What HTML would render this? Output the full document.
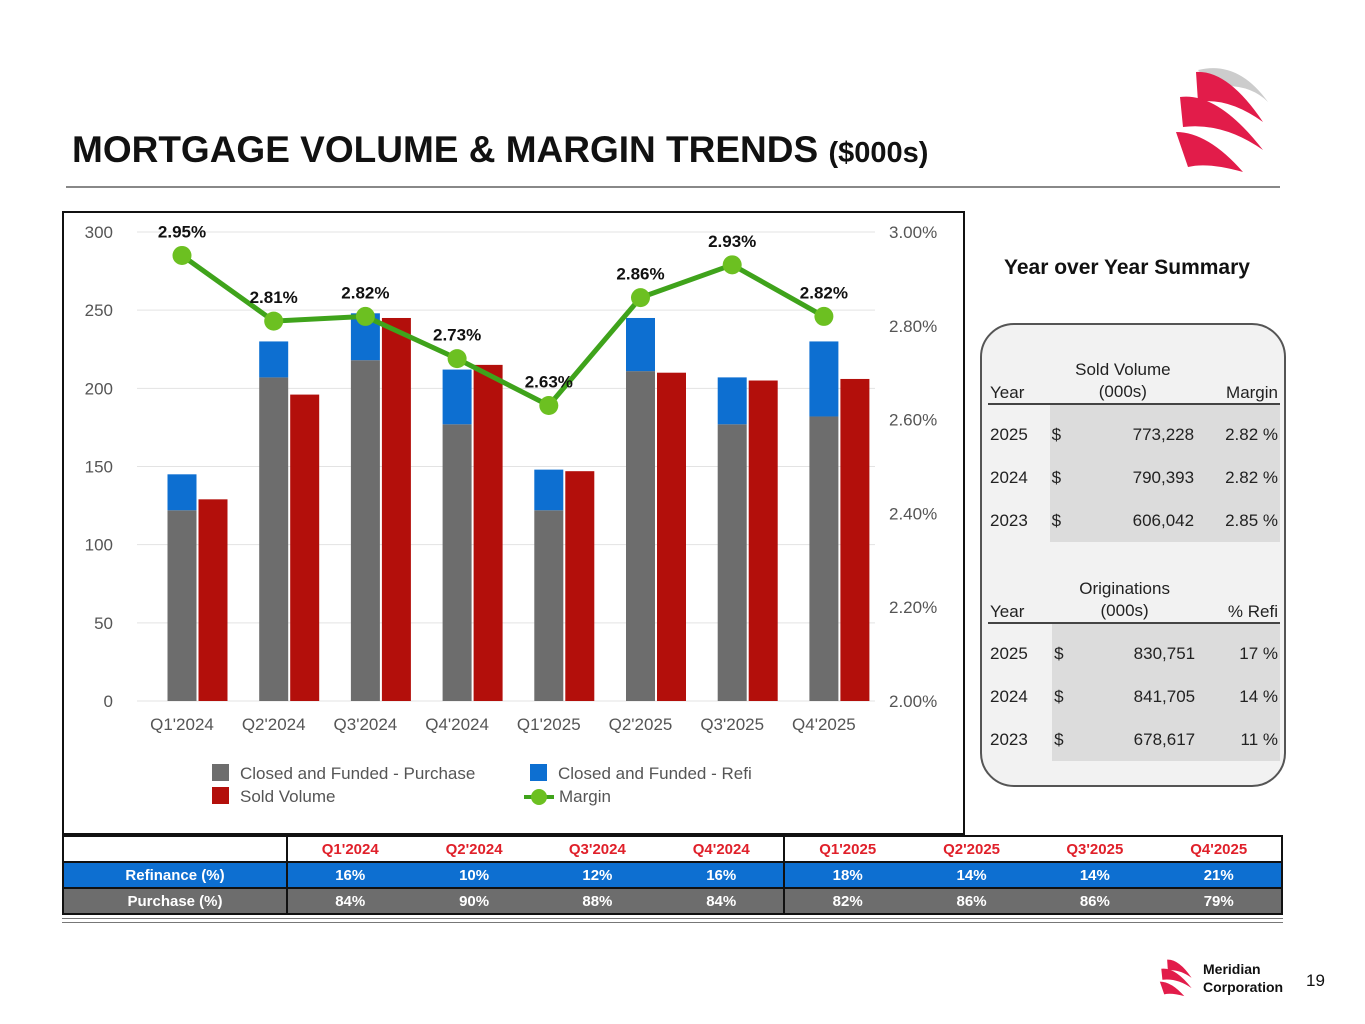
<!DOCTYPE html>
<html><head><meta charset="utf-8"><style>
body{margin:0;width:1365px;height:1024px;background:#fff;font-family:"Liberation Sans",Arial,sans-serif;position:relative;overflow:hidden}
.abs{position:absolute}
table.pct{border-collapse:collapse;position:absolute;left:62px;top:835px;width:1221px;font-weight:bold;font-size:15px;text-align:center}
table.pct td{border-top:2px solid #111;border-bottom:2px solid #111;height:24px;padding:0}
table.pct td.vb{border-left:2px solid #111}
table.pct td.rb{border-right:2px solid #111}
.yt td{font-size:17px;padding:0 2px;height:43px}
.yt tr.sp td{height:8px}
</style></head><body>
<div class="abs" style="left:72px;top:129px;font-size:37px;font-weight:bold;color:#111;white-space:nowrap">MORTGAGE VOLUME &amp; MARGIN TRENDS <span style="font-size:29px">($000s)</span></div>
<div class="abs" style="left:66px;top:186px;width:1214px;height:2px;background:#888"></div>
<svg class="abs" style="left:1168px;top:62px" width="110" height="115" viewBox="0 0 110 115">
<path d="M30 8 Q70 -2 100 40 Q80 20 45 25Z" fill="#ccc"/><path d="M28 10 Q60 8 95 60 Q60 35 30 40Z" fill="#e21c4a"/>
<path d="M12 35 Q50 30 95 88 Q55 60 15 65Z" fill="#e21c4a"/><path d="M8 70 Q40 70 75 110 Q40 100 20 105Z" fill="#e21c4a"/>
</svg>
<div class="abs" style="left:62px;top:211px;width:899px;height:620px;border:2px solid #111"></div>
<svg id="chart" class="abs" style="left:0;top:0" width="965" height="830"></svg>
<div class="abs" style="left:212px;top:762px;font-size:17px;color:#555;line-height:23px">
<div style="position:absolute;left:0;top:0;white-space:nowrap"><span style="display:inline-block;width:17px;height:17px;background:#6d6d6d;vertical-align:-2px;margin-right:11px"></span>Closed and Funded - Purchase</div>
<div style="position:absolute;left:0;top:23px;white-space:nowrap"><span style="display:inline-block;width:17px;height:17px;background:#b30f0b;vertical-align:-2px;margin-right:11px"></span>Sold Volume</div>
<div style="position:absolute;left:318px;top:0;white-space:nowrap"><span style="display:inline-block;width:17px;height:17px;background:#0d6fd1;vertical-align:-2px;margin-right:11px"></span>Closed and Funded - Refi</div>
<div style="position:absolute;left:312px;top:23px;white-space:nowrap"><svg width="30" height="17" style="vertical-align:-3px;margin-right:5px"><line x1="0" y1="9" x2="30" y2="9" stroke="#3fa31b" stroke-width="4"/><circle cx="15" cy="9" r="8" fill="#6cc021"/></svg>Margin</div>
</div>
<div class="abs" style="left:1004px;top:256px;font-size:21px;font-weight:bold;color:#111">Year over Year Summary</div>
<div class="abs" style="left:980px;top:323px;width:302px;height:460px;border:2px solid #555;border-radius:34px;background:#f2f2f2"></div>
<table class="abs yt" style="left:988px;top:350px;width:292px;border-collapse:collapse;color:#222">
<tr style="height:54px"><td style="vertical-align:bottom;border-bottom:2px solid #444">Year</td><td colspan="2" style="vertical-align:bottom;text-align:center;border-bottom:2px solid #444;line-height:22px">Sold Volume<br>(000s)</td><td style="vertical-align:bottom;text-align:right;border-bottom:2px solid #444">Margin</td></tr>
<tr class="sp"><td></td><td style="background:#dcdcdc" colspan="3"></td></tr>
<tr><td>2025</td><td style="background:#dcdcdc">$</td><td style="background:#dcdcdc;text-align:right">773,228</td><td style="background:#dcdcdc;text-align:right">2.82 %</td></tr>
<tr><td>2024</td><td style="background:#dcdcdc">$</td><td style="background:#dcdcdc;text-align:right">790,393</td><td style="background:#dcdcdc;text-align:right">2.82 %</td></tr>
<tr><td>2023</td><td style="background:#dcdcdc">$</td><td style="background:#dcdcdc;text-align:right">606,042</td><td style="background:#dcdcdc;text-align:right">2.85 %</td></tr>
</table>
<table class="abs yt" style="left:988px;top:578px;width:292px;border-collapse:collapse;color:#222">
<tr style="height:44px"><td style="vertical-align:bottom;border-bottom:2px solid #444">Year</td><td colspan="2" style="vertical-align:bottom;text-align:center;border-bottom:2px solid #444;line-height:22px">Originations<br>(000s)</td><td style="vertical-align:bottom;text-align:right;border-bottom:2px solid #444">% Refi</td></tr>
<tr class="sp"><td></td><td style="background:#dcdcdc" colspan="3"></td></tr>
<tr><td>2025</td><td style="background:#dcdcdc">$</td><td style="background:#dcdcdc;text-align:right">830,751</td><td style="background:#dcdcdc;text-align:right">17 %</td></tr>
<tr><td>2024</td><td style="background:#dcdcdc">$</td><td style="background:#dcdcdc;text-align:right">841,705</td><td style="background:#dcdcdc;text-align:right">14 %</td></tr>
<tr><td>2023</td><td style="background:#dcdcdc">$</td><td style="background:#dcdcdc;text-align:right">678,617</td><td style="background:#dcdcdc;text-align:right">11 %</td></tr>
</table>
<table class="pct">
<tr style="color:#e0202a"><td class="vb" style="width:222px"></td><td class="vb">Q1'2024</td><td>Q2'2024</td><td>Q3'2024</td><td>Q4'2024</td><td class="vb">Q1'2025</td><td>Q2'2025</td><td>Q3'2025</td><td class="rb">Q4'2025</td></tr>
<tr style="background:#0d6fd1;color:#fff"><td class="vb">Refinance (%)</td><td class="vb">16%</td><td>10%</td><td>12%</td><td>16%</td><td class="vb">18%</td><td>14%</td><td>14%</td><td class="rb">21%</td></tr>
<tr style="background:#6d6d6d;color:#fff"><td class="vb">Purchase (%)</td><td class="vb">84%</td><td>90%</td><td>88%</td><td>84%</td><td class="vb">82%</td><td>86%</td><td>86%</td><td class="rb">79%</td></tr>
</table>
<div class="abs" style="left:62px;top:918px;width:1221px;height:3px;border-top:1px solid #777;border-bottom:1px solid #777"></div>
<svg class="abs" style="left:1156px;top:956px" width="42" height="42" viewBox="0 0 110 115"><path d="M28 10 Q60 8 95 60 Q60 35 30 40Z" fill="#e21c4a"/><path d="M12 35 Q50 30 95 88 Q55 60 15 65Z" fill="#e21c4a"/><path d="M8 70 Q40 70 75 110 Q40 100 20 105Z" fill="#e21c4a"/></svg>
<div class="abs" style="left:1203px;top:960px;font-size:14px;font-weight:bold;line-height:18px;color:#111">Meridian<br>Corporation</div>
<div class="abs" style="left:1306px;top:971px;font-size:17px;color:#111">19</div>
<script>
const categories=["Q1'2024","Q2'2024","Q3'2024","Q4'2024","Q1'2025","Q2'2025","Q3'2025","Q4'2025"];
const purchase=[122,207,218,177,122,211,177,182];
const refi=[23,23,30,35,26,34,30,48];
const sold=[129,196,245,215,147,210,205,206];
const margin=[2.95,2.81,2.82,2.73,2.63,2.86,2.93,2.82];
const leftTicks=[0,50,100,150,200,250,300];
const rightTicks=[2.0,2.2,2.4,2.6,2.8,3.0];
const svg=document.getElementById('chart');const NS='http://www.w3.org/2000/svg';
const y0=701,y1=232;
const yL=v=>y0-(v/300)*(y0-y1);
const yR=v=>y0-((v-2)/1)*(y0-y1);
const xC=i=>182+i*91.7;
function mk(t,a,txt){const e=document.createElementNS(NS,t);for(const k in a)e.setAttribute(k,a[k]);if(txt!=null)e.textContent=txt;svg.appendChild(e);return e;}
leftTicks.forEach(v=>{
const g=mk('line',{x1:137,x2:875,y1:yL(v),y2:yL(v),stroke:'#e3e3e3','stroke-width':1});


const t=mk('text',{x:113,y:yL(v)+6,'text-anchor':'end','font-size':17,fill:'#555'},v);


});
rightTicks.forEach(v=>{
const t=mk('text',{x:889,y:yR(v)+6,'font-size':17,fill:'#555'},v.toFixed(2)+'%');


});
categories.forEach((c,i)=>{
const x=xC(i);
const b1=mk('rect',{x:x-14.5,y:yL(purchase[i]),width:29,height:y0-yL(purchase[i]),fill:'#6d6d6d'});


const b2=mk('rect',{x:x-14.5,y:yL(purchase[i]+refi[i]),width:29,height:yL(purchase[i])-yL(purchase[i]+refi[i]),fill:'#0d6fd1'});


const b3=mk('rect',{x:x+16.5,y:yL(sold[i]),width:29,height:y0-yL(sold[i]),fill:'#b30f0b'});


const t=mk('text',{x:x,y:730,'text-anchor':'middle','font-size':17,fill:'#555'},c);


});
const pl=mk('polyline',{points:margin.map((m,i)=>xC(i)+','+yR(m)).join(' '),fill:'none',stroke:'#3fa31b','stroke-width':5});


margin.forEach((m,i)=>{
const c=mk('circle',{cx:xC(i),cy:yR(m),r:9.5,fill:'#6cc021'});


const t=mk('text',{x:xC(i),y:yR(m)-18,'text-anchor':'middle','font-size':17,'font-weight':'bold',fill:'#111'},m.toFixed(2)+'%');


});
</script>
</body></html>
